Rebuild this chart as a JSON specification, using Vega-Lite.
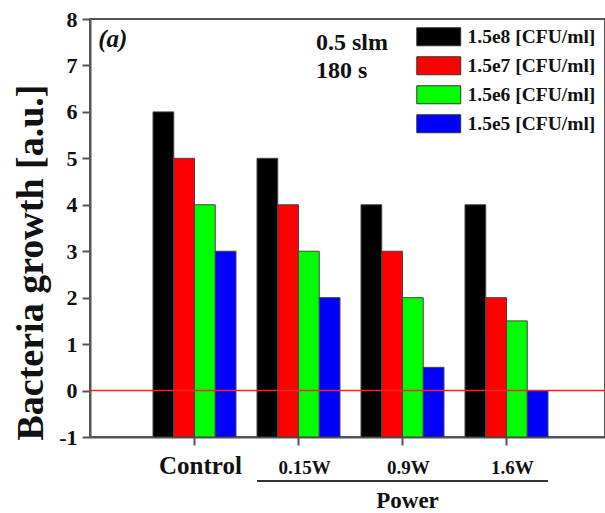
{
  "$schema": "https://vega.github.io/schema/vega-lite/v6.json",
  "width": 515,
  "height": 418,
  "autosize": {"type": "none"},
  "padding": {"left": 90, "top": 19, "right": 0, "bottom": 76},
  "background": "white",
  "config": {"view": {"stroke": "#555", "strokeWidth": 2}, "font": "Liberation Serif"},
  "data": {"values": [
    {"power": "Control", "conc": "1.5e8 [CFU/ml]", "growth": 6},
    {"power": "Control", "conc": "1.5e7 [CFU/ml]", "growth": 5},
    {"power": "Control", "conc": "1.5e6 [CFU/ml]", "growth": 4},
    {"power": "Control", "conc": "1.5e5 [CFU/ml]", "growth": 3},
    {"power": "0.15W", "conc": "1.5e8 [CFU/ml]", "growth": 5},
    {"power": "0.15W", "conc": "1.5e7 [CFU/ml]", "growth": 4},
    {"power": "0.15W", "conc": "1.5e6 [CFU/ml]", "growth": 3},
    {"power": "0.15W", "conc": "1.5e5 [CFU/ml]", "growth": 2},
    {"power": "0.9W", "conc": "1.5e8 [CFU/ml]", "growth": 4},
    {"power": "0.9W", "conc": "1.5e7 [CFU/ml]", "growth": 3},
    {"power": "0.9W", "conc": "1.5e6 [CFU/ml]", "growth": 2},
    {"power": "0.9W", "conc": "1.5e5 [CFU/ml]", "growth": 0.5},
    {"power": "1.6W", "conc": "1.5e8 [CFU/ml]", "growth": 4},
    {"power": "1.6W", "conc": "1.5e7 [CFU/ml]", "growth": 2},
    {"power": "1.6W", "conc": "1.5e6 [CFU/ml]", "growth": 1.5},
    {"power": "1.6W", "conc": "1.5e5 [CFU/ml]", "growth": 0}
  ]},
  "layer": [
    {
      "mark": {"type": "bar", "stroke": "#444", "strokeWidth": 1},
      "encoding": {
        "x": {
          "field": "power", "type": "nominal",
          "sort": ["Control", "0.15W", "0.9W", "1.6W"],
          "scale": {"paddingInner": 0.2019, "paddingOuter": 0.577, "align": 0.525},
          "axis": {
            "title": "Power", "titleFont": "Liberation Serif", "titleFontWeight": "bold", "titleFontSize": 23, "titleColor": "#111",
            "titleX": 317, "titleY": 70, "titleBaseline": "alphabetic", "titleAlign": "center",
            "labelAngle": 0, "labelFont": "Liberation Serif", "labelFontWeight": "bold",
            "labelFontSize": {"condition": {"test": "datum.value === 'Control'", "value": 25}, "value": 19},
            "labelColor": "#111", "labelBaseline": "alphabetic", "labelPadding": 28, "labelOffset": 6,
            "tickColor": "#555", "tickWidth": 2, "tickSize": 8, "domainColor": "#555", "domainWidth": 2, "grid": false
          }
        },
        "xOffset": {
          "field": "conc", "type": "nominal",
          "sort": ["1.5e8 [CFU/ml]", "1.5e7 [CFU/ml]", "1.5e6 [CFU/ml]", "1.5e5 [CFU/ml]"],
          "scale": {"paddingInner": 0, "paddingOuter": 0}
        },
        "y": {
          "field": "growth", "type": "quantitative",
          "scale": {"domain": [-1, 8], "nice": false, "zero": false},
          "axis": {
            "title": "Bacteria growth [a.u.]", "values": [-1, 0, 1, 2, 3, 4, 5, 6, 7, 8], "grid": false,
            "labelExpr": "'' + datum.value",
            "domainColor": "#555", "domainWidth": 2, "tickColor": "#555", "tickWidth": 2, "tickSize": 8,
            "labelFont": "Liberation Serif", "labelFontWeight": "bold", "labelFontSize": 22, "labelColor": "#111", "labelPadding": 5,
            "titleFont": "Liberation Serif", "titleFontWeight": "bold", "titleFontSize": 38, "titleColor": "#111",
            "titleX": -40, "titleY": 243, "titleAngle": -90, "titleBaseline": "bottom", "titleAlign": "center"
          }
        },
        "y2": {"datum": -1},
        "color": {
          "field": "conc", "type": "nominal",
          "scale": {"domain": ["1.5e8 [CFU/ml]", "1.5e7 [CFU/ml]", "1.5e6 [CFU/ml]", "1.5e5 [CFU/ml]"], "range": ["#000000", "#ff0000", "#00ff00", "#0000ff"]},
          "legend": {
            "orient": "none", "legendX": 339, "legendY": 8, "title": null,
            "symbolType": "M-2.44,-1H2.44V1H-2.44Z", "symbolSize": 324,
            "symbolStrokeColor": "#333", "symbolStrokeWidth": 1, "symbolOpacity": 1,
            "labelFont": "Liberation Serif", "labelFontWeight": "bold", "labelFontSize": 19.5, "labelColor": "#111",
            "labelOffset": 19, "rowPadding": 6, "padding": 0, "labelLimit": 300
          }
        }
      }
    },
    {
      "data": {"values": [{}]},
      "mark": {"type": "rule", "color": "#ff2020", "strokeWidth": 1.5},
      "encoding": {"y": {"datum": 0}}
    },
    {
      "data": {"values": [{}]},
      "mark": {"type": "rule", "color": "#333", "strokeWidth": 2},
      "encoding": {
        "x": {"datum": "0.15W", "bandPosition": 0},
        "x2": {"datum": "1.6W", "bandPosition": 1},
        "y": {"datum": -1.95}
      }
    },
    {
      "data": {"values": [{}]},
      "mark": {"type": "text", "font": "Liberation Serif", "fontStyle": "italic", "fontWeight": "bold", "fontSize": 25, "align": "left", "baseline": "alphabetic", "color": "#111"},
      "encoding": {
        "x": {"datum": "Control", "bandPosition": -0.66},
        "y": {"datum": 7.4},
        "text": {"value": "(a)"}
      }
    },
    {
      "data": {"values": [{}]},
      "mark": {"type": "text", "font": "Liberation Serif", "fontWeight": "bold", "fontSize": 24, "align": "left", "baseline": "alphabetic", "lineHeight": 28, "color": "#111"},
      "encoding": {
        "x": {"datum": "0.15W", "bandPosition": 0.71},
        "y": {"datum": 7.33},
        "text": {"value": ["0.5 slm", "180 s"]}
      }
    }
  ]
}
